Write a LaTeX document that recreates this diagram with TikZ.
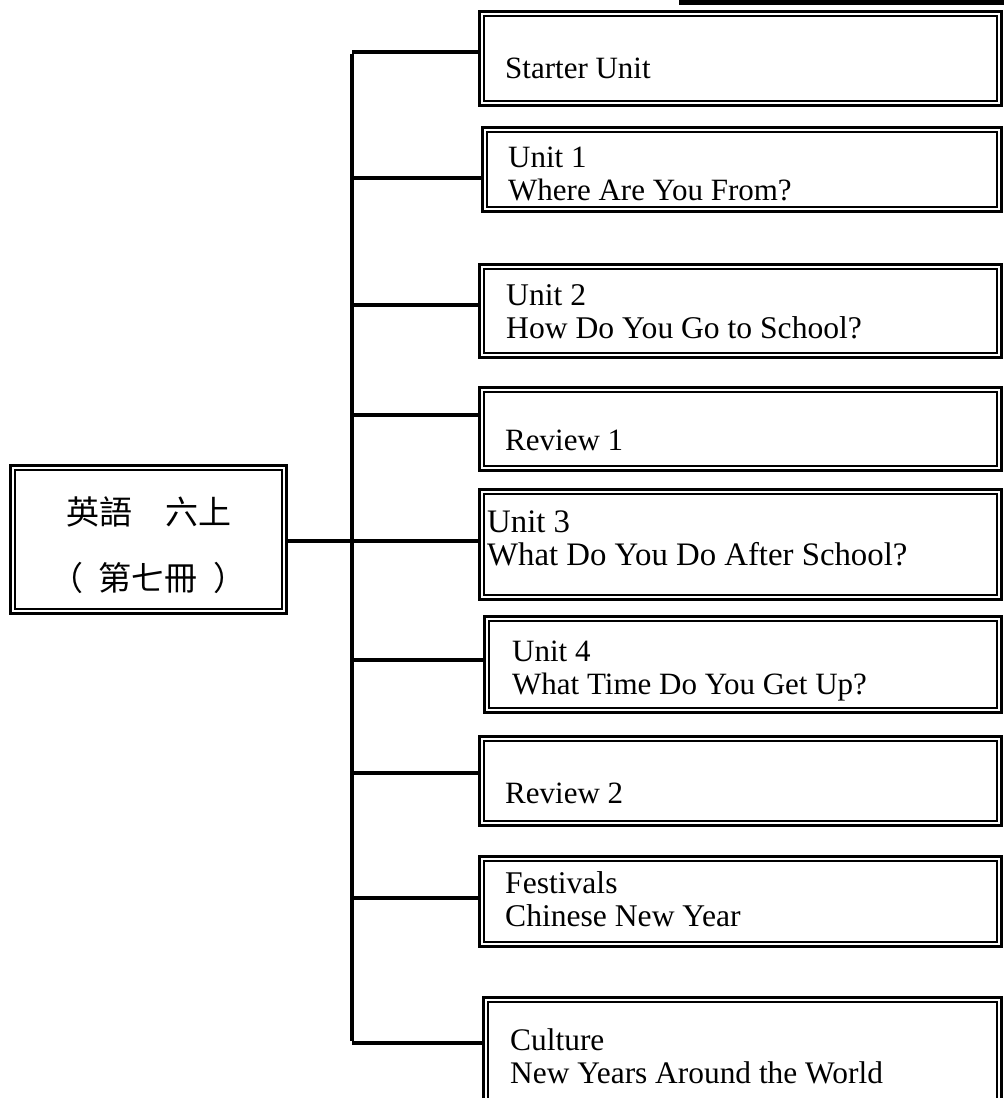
\documentclass[tikz,border=0pt]{standalone}
\usepackage{fontspec}
\setmainfont{Liberation Serif}
\newfontfamily\cjkfont{Noto Sans CJK TC}
\begin{document}
\begin{tikzpicture}[x=1pt,y=-1pt,
  dbox/.style={draw, line width=2.6pt, double, double distance=2pt, inner sep=0pt, minimum width=#1},
  conn/.style={line width=3.4pt},
  trunkline/.style={line width=4pt},
  lbl/.style={anchor=west, align=left, inner sep=0pt, text depth=0pt, font=\fontsize{31}{33}\selectfont},
]
\useasboundingbox (0,0) rectangle (1004,1098);
% top bar
\fill (679,0) rectangle (1004,4.5);
% root
\node[dbox=271.8pt, minimum height=143.8pt] (root) at (148.5,539.5) {};
\node[align=center, inner sep=0pt, font=\cjkfont\fontsize{33}{66}\selectfont] (rootlbl) at (148.5,545) {英語　六上\\（\hspace{16pt}第七冊\hspace{16pt}）};
% boxes
\node[dbox=517.8pt, minimum height=89.8pt] (b1) at (740.5,58.5) {};
\node[dbox=514.8pt, minimum height=79.8pt] (b2) at (742,169.5) {};
\node[dbox=517.8pt, minimum height=88.8pt] (b3) at (740.5,311) {};
\node[dbox=517.8pt, minimum height=78.8pt] (b4) at (740.5,429) {};
\node[dbox=517.8pt, minimum height=105.8pt] (b5) at (740.5,544.5) {};
\node[dbox=512.8pt, minimum height=91.8pt] (b6) at (743,664.5) {};
\node[dbox=517.8pt, minimum height=84.8pt] (b7) at (740.5,781) {};
\node[dbox=517.8pt, minimum height=85.8pt] (b8) at (740.5,901.5) {};
\node[dbox=513.8pt, minimum height=106.8pt] (b9) at (742.5,1053) {};
% labels
\node[lbl] (l1) at (505,68) {Starter Unit};
\node[lbl] (l2) at (508,174) {Unit 1\\Where Are You From?};
\node[lbl, font=\fontsize{31.6}{33}\selectfont] (l3) at (506,311.5) {Unit 2\\How Do You Go to School?};
\node[lbl] (l4) at (505,440) {Review 1};
\node[lbl, font=\fontsize{32.8}{33}\selectfont] (l5) at (487,538.5) {Unit 3\\What Do You Do After School?};
\node[lbl] (l6) at (512,667.5) {Unit 4\\What Time Do You Get Up?};
\node[lbl] (l7) at (505,793) {Review 2};
\node[lbl, font=\fontsize{31.6}{33}\selectfont] (l8) at (505,899.5) {Festivals\\Chinese New Year};
\node[lbl, font=\fontsize{31.4}{33}\selectfont] (l9) at (510,1056.5) {Culture\\New Years Around the World};
% trunk
\coordinate (c1) at (352,52);
\coordinate (c2) at (352,178);
\coordinate (c3) at (352,305);
\coordinate (c4) at (352,415);
\coordinate (c5) at (352,541);
\coordinate (c6) at (352,660);
\coordinate (c7) at (352,773);
\coordinate (c8) at (352,898);
\coordinate (c9) at (352,1043);
\draw[trunkline] ([yshift=-1.7pt]c1) -- ([yshift=1.7pt]c9);
\draw[conn] (root.east |- c5) -- (c5);
\foreach \i in {1,...,9}{
  \draw[conn] (c\i) -- (b\i.west |- c\i);
}
\end{tikzpicture}
\end{document}
